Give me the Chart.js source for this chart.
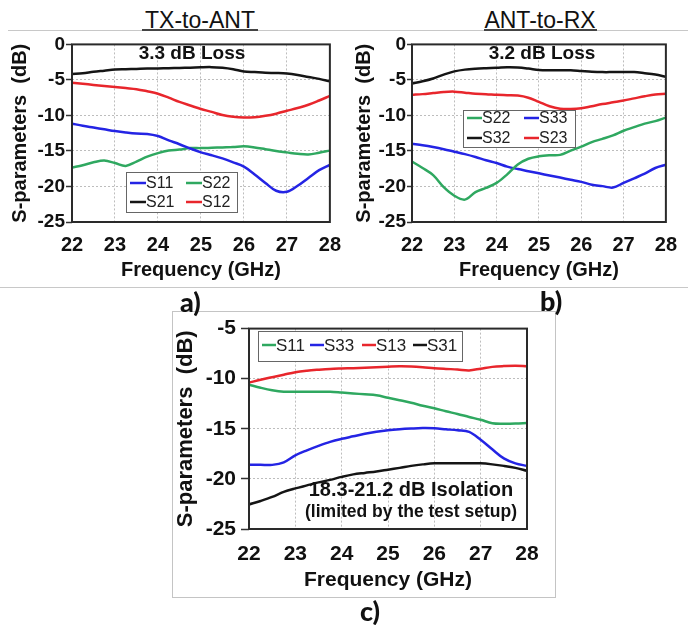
<!DOCTYPE html>
<html>
<head>
<meta charset="utf-8">
<title>S-parameters</title>
<script src="https://cdn.jsdelivr.net/npm/chart.js@4.4.1/dist/chart.umd.min.js"></script>
<style>
  html, body { margin: 0; padding: 0; background: #fff; }
  #page { position: relative; width: 688px; height: 625px; overflow: hidden; font-family: 'Liberation Sans', Arial, sans-serif; }
  .abs { position: absolute; }
  canvas { position: absolute; display: block; }
  .title { font-size: 23px; line-height: 24px; color: #111; text-align: center; }
  .tag { font-family: Lato, 'Open Sans', sans-serif; font-weight: 900; font-size: 27px; line-height: 26px; color: #111; }
  .rule { height: 1px; background: #c8c8c8; }
  .uline { height: 2px; background: #444; }
</style>
</head>
<body>
<div id="page">
  <div class="abs rule" style="left:8px; top:30px; width:680px;"></div>
  <div class="abs rule" style="left:0; top:287px; width:688px;"></div>
  <div class="abs title" style="left:100px; top:8px; width:200px;">TX-to-ANT</div>
  <div class="abs uline" style="left:142px; top:29px; width:116px;"></div>
  <div class="abs title" style="left:440px; top:8px; width:200px;">ANT-to-RX</div>
  <div class="abs uline" style="left:484px; top:29px; width:113px;"></div>
  <div class="abs" style="left:172px; top:311px; width:384px; height:287px; box-sizing:border-box; border:1px solid #c4c4c4;"></div>

  <canvas id="chartA" width="352" height="254" style="left:0; top:32px;"></canvas>
  <canvas id="chartB" width="344" height="254" style="left:344px; top:32px;"></canvas>
  <canvas id="chartC" width="384" height="287" style="left:172px; top:311px;"></canvas>

  <div class="abs tag" style="left:180px; top:289px;">a)</div>
  <div class="abs tag" style="left:540px; top:288px;">b)</div>
  <div class="abs tag" style="left:360px; top:598px;">c)</div>
</div>

<script>
// frequency points (GHz), shared by all three plots
const freqGHz = [22, 22.25, 22.5, 22.75, 23, 23.25, 23.5, 23.75, 24, 24.25, 24.5, 24.75, 25,
                 25.25, 25.5, 25.75, 26, 26.25, 26.5, 26.75, 27, 27.25, 27.5, 27.75, 28];

const xTicks = [22, 23, 24, 25, 26, 27, 28];
const yTicksAB = [0, -5, -10, -15, -20, -25];
const yTicksC = [-5, -10, -15, -20, -25];

// a) TX-to-ANT
const txS11 = [-11.15, -11.45, -11.7, -11.95, -12.2, -12.4, -12.55, -12.6, -12.9, -13.5, -14.05, -14.65, -15.2,
               -15.6, -16.05, -16.6, -17.2, -18.3, -19.5, -20.6, -20.75, -19.9, -18.8, -17.7, -16.95];
const txS22 = [-17.35, -17.0, -16.6, -16.35, -16.7, -17.1, -16.5, -15.8, -15.3, -14.95, -14.8, -14.6, -14.6,
               -14.55, -14.5, -14.45, -14.35, -14.5, -14.75, -15.0, -15.2, -15.4, -15.5, -15.25, -14.95];
const txS21 = [-4.15, -4.05, -3.85, -3.7, -3.55, -3.5, -3.45, -3.4, -3.38, -3.35, -3.32, -3.28, -3.22,
               -3.2, -3.3, -3.5, -3.8, -3.9, -4.0, -4.03, -4.1, -4.3, -4.58, -4.85, -5.2];
const txS12 = [-5.4, -5.55, -5.7, -5.85, -6.0, -6.15, -6.3, -6.6, -6.95, -7.5, -8.1, -8.6, -9.1,
               -9.5, -9.95, -10.2, -10.3, -10.25, -10.05, -9.75, -9.35, -8.95, -8.5, -7.9, -7.25];

// b) ANT-to-RX
const rxS22 = [-16.5, -17.4, -18.4, -20.1, -21.3, -21.85, -20.8, -20.2, -19.5, -18.3, -16.9, -16.1, -15.75,
               -15.6, -15.55, -14.95, -14.4, -13.75, -13.3, -12.8, -12.15, -11.65, -11.15, -10.8, -10.3];
const rxS33 = [-14.0, -14.2, -14.45, -14.75, -15.1, -15.45, -15.85, -16.3, -16.7, -17.2, -17.55, -17.85, -18.15,
               -18.45, -18.75, -19.05, -19.35, -19.75, -19.95, -20.15, -19.5, -18.85, -18.2, -17.4, -16.95];
const rxS32 = [-5.5, -5.2, -4.8, -4.25, -3.8, -3.55, -3.42, -3.35, -3.3, -3.22, -3.25, -3.4, -3.6,
               -3.65, -3.65, -3.65, -3.75, -3.85, -3.9, -3.9, -3.9, -3.88, -4.05, -4.25, -4.55];
const rxS23 = [-7.1, -7.0, -6.85, -6.7, -6.65, -6.8, -6.95, -7.0, -7.1, -7.15, -7.2, -7.5, -8.1,
               -8.7, -9.05, -9.1, -9.0, -8.7, -8.4, -8.15, -7.9, -7.6, -7.3, -7.05, -6.95];

// c) isolation
const isoS11 = [-10.6, -10.9, -11.15, -11.3, -11.3, -11.3, -11.3, -11.3, -11.38, -11.47, -11.56, -11.66, -11.9,
                -12.15, -12.4, -12.7, -12.95, -13.25, -13.52, -13.82, -14.1, -14.45, -14.5, -14.48, -14.42];
const isoS33 = [-18.6, -18.6, -18.6, -18.35, -17.65, -17.15, -16.7, -16.3, -16.0, -15.75, -15.5, -15.3, -15.15,
                -15.05, -14.98, -14.93, -14.95, -15.05, -15.15, -15.3, -16.1, -17.05, -17.95, -18.45, -18.7];
const isoS13 = [-10.4, -10.1, -9.85, -9.6, -9.35, -9.2, -9.1, -9.02, -8.98, -8.95, -8.9, -8.85, -8.8,
                -8.76, -8.78, -8.85, -8.95, -9.02, -9.08, -9.17, -9.0, -8.82, -8.74, -8.7, -8.75];
const isoS31 = [-22.55, -22.2, -21.8, -21.3, -20.95, -20.65, -20.35, -20.1, -19.8, -19.55, -19.4, -19.26, -19.08,
                -18.9, -18.7, -18.55, -18.44, -18.44, -18.44, -18.44, -18.45, -18.55, -18.7, -18.9, -19.2];

const BLUE = '#2424e4';
const RED = '#e8262c';
const GREEN = '#2fa860';
const BLACK = '#151515';
const FONT = "'Liberation Sans', Arial, sans-serif";

Chart.defaults.font.family = FONT;
Chart.defaults.color = '#111';

function series(label, values, color) {
  return {
    label: label,
    data: freqGHz.map((f, i) => ({ x: f, y: values[i] })),
    borderColor: color,
    backgroundColor: color,
    borderWidth: 2.5,
    pointRadius: 0,
    tension: 0.35,
    fill: false
  };
}

// plot frame, boxed legend and text notes, drawn over the chart
const framePlugin = {
  id: 'frameNotes',
  afterDraw(chart, args, opts) {
    const ctx = chart.ctx;
    const a = chart.chartArea;
    ctx.save();
    ctx.strokeStyle = '#2a2a2a';
    ctx.lineWidth = 2;
    ctx.strokeRect(a.left, a.top, a.right - a.left, a.bottom - a.top);

    const lg = opts.legend;
    if (lg) {
      ctx.fillStyle = '#fff';
      ctx.fillRect(lg.x, lg.y, lg.w, lg.h);
      ctx.strokeStyle = '#666';
      ctx.lineWidth = 1;
      ctx.strokeRect(lg.x + 0.5, lg.y + 0.5, lg.w, lg.h);
      ctx.font = lg.fontSize + 'px ' + FONT;
      ctx.textBaseline = 'middle';
      ctx.textAlign = 'left';
      lg.order.forEach((idx, n) => {
        const ds = chart.data.datasets[idx];
        const col = n % lg.cols.length;
        const row = Math.floor(n / lg.cols.length);
        const x0 = lg.itemX + lg.cols[col];
        const y0 = lg.rows[row];
        ctx.strokeStyle = ds.borderColor;
        ctx.lineWidth = 2.5;
        ctx.beginPath();
        ctx.moveTo(x0, y0);
        ctx.lineTo(x0 + lg.lineLen, y0);
        ctx.stroke();
        ctx.fillStyle = '#222';
        ctx.fillText(ds.label, x0 + lg.lineLen, y0 + 1);
      });
    }

    (opts.notes || []).forEach(n => {
      ctx.font = n.font;
      ctx.fillStyle = '#111';
      ctx.textAlign = 'center';
      ctx.textBaseline = 'alphabetic';
      ctx.fillText(n.text, n.x, n.y);
    });
    ctx.restore();
  }
};

function makeChart(id, datasets, s) {
  return new Chart(document.getElementById(id), {
    type: 'line',
    data: { datasets: datasets },
    plugins: [framePlugin],
    options: {
      responsive: false,
      animation: false,
      devicePixelRatio: 1,
      layout: { padding: { left: 0, top: s.padTop, right: s.padRight, bottom: 0 } },
      plugins: {
        legend: { display: false },
        tooltip: { enabled: false },
        frameNotes: { legend: s.legend, notes: s.notes }
      },
      scales: {
        x: {
          type: 'linear',
          min: 22,
          max: 28,
          afterBuildTicks: scale => { scale.ticks = xTicks.map(v => ({ value: v })); },
          afterFit: scale => { scale.height = s.xHeight; },
          grid: { color: '#bdbdbd', lineWidth: 1, drawTicks: false },
          border: { display: false, dash: [2, 2] },
          ticks: { font: { size: s.xTickSize, weight: 'bold' }, padding: s.xTickPad, maxRotation: 0 },
          title: {
            display: true,
            text: 'Frequency (GHz)',
            font: { size: s.titleSize, weight: 'bold' },
            padding: { top: 0, bottom: s.xTitlePad }
          }
        },
        y: {
          type: 'linear',
          min: s.yTicks[s.yTicks.length - 1],
          max: s.yTicks[0],
          afterBuildTicks: scale => { scale.ticks = s.yTicks.map(v => ({ value: v })); },
          afterFit: scale => { scale.width = s.yWidth; },
          grid: { color: '#bdbdbd', lineWidth: 1, drawTicks: true, tickLength: s.tickLen, tickColor: '#333', tickWidth: 1.5 },
          border: { display: false, dash: [2, 2] },
          ticks: { font: { size: s.yTickSize, weight: 'bold' }, padding: s.yTickPad },
          title: {
            display: true,
            text: 'S-parameters  (dB)',
            font: { size: s.yTitleSize, weight: 'bold' },
            padding: { top: s.yTitlePad, bottom: 0 }
          }
        }
      }
    }
  });
}

makeChart('chartA', [
  series('S11', txS11, BLUE),
  series('S22', txS22, GREEN),
  series('S21', txS21, BLACK),
  series('S12', txS12, RED)
], {
  padTop: 8, padRight: 17, xHeight: 64, yWidth: 72, yTicks: yTicksAB,
  xTickSize: 20, yTickSize: 19, xTickPad: 11, yTickPad: 1, tickLen: 6,
  titleSize: 20, yTitleSize: 20, xTitlePad: 4, yTitlePad: 8,
  legend: { x: 126, y: 140, w: 111, h: 40, itemX: 130, cols: [0, 56], rows: [151, 170],
            lineLen: 16, fontSize: 16, order: [0, 1, 2, 3] },
  notes: [{ text: '3.3 dB Loss', x: 192, y: 27, font: 'bold 19px ' + FONT }]
});

makeChart('chartB', [
  series('S22', rxS22, GREEN),
  series('S33', rxS33, BLUE),
  series('S32', rxS32, BLACK),
  series('S23', rxS23, RED)
], {
  padTop: 8, padRight: 11, xHeight: 64, yWidth: 68, yTicks: yTicksAB,
  xTickSize: 20, yTickSize: 19, xTickPad: 11, yTickPad: 1, tickLen: 5,
  titleSize: 20, yTitleSize: 20, xTitlePad: 4, yTitlePad: 8,
  legend: { x: 119, y: 78, w: 112, h: 37, itemX: 123, cols: [0, 57], rows: [86, 106],
            lineLen: 15, fontSize: 16, order: [0, 1, 2, 3] },
  notes: [{ text: '3.2 dB Loss', x: 198, y: 27, font: 'bold 19px ' + FONT }]
});

makeChart('chartC', [
  series('S11', isoS11, GREEN),
  series('S33', isoS33, BLUE),
  series('S13', isoS13, RED),
  series('S31', isoS31, BLACK)
], {
  padTop: 15, padRight: 29, xHeight: 69, yWidth: 77, yTicks: yTicksC,
  xTickSize: 21, yTickSize: 21, xTickPad: 13, yTickPad: 5, tickLen: 8,
  titleSize: 21, yTitleSize: 22, xTitlePad: 5, yTitlePad: 1,
  legend: { x: 86, y: 20, w: 204, h: 30, itemX: 90, cols: [0, 48, 100, 151], rows: [34],
            lineLen: 14, fontSize: 17, order: [0, 1, 2, 3] },
  notes: [
    { text: '18.3-21.2 dB Isolation', x: 239, y: 185, font: 'bold 20px ' + FONT },
    { text: '(limited by the test setup)', x: 239, y: 206, font: 'bold 17.5px ' + FONT }
  ]
});
</script>
</body>
</html>
